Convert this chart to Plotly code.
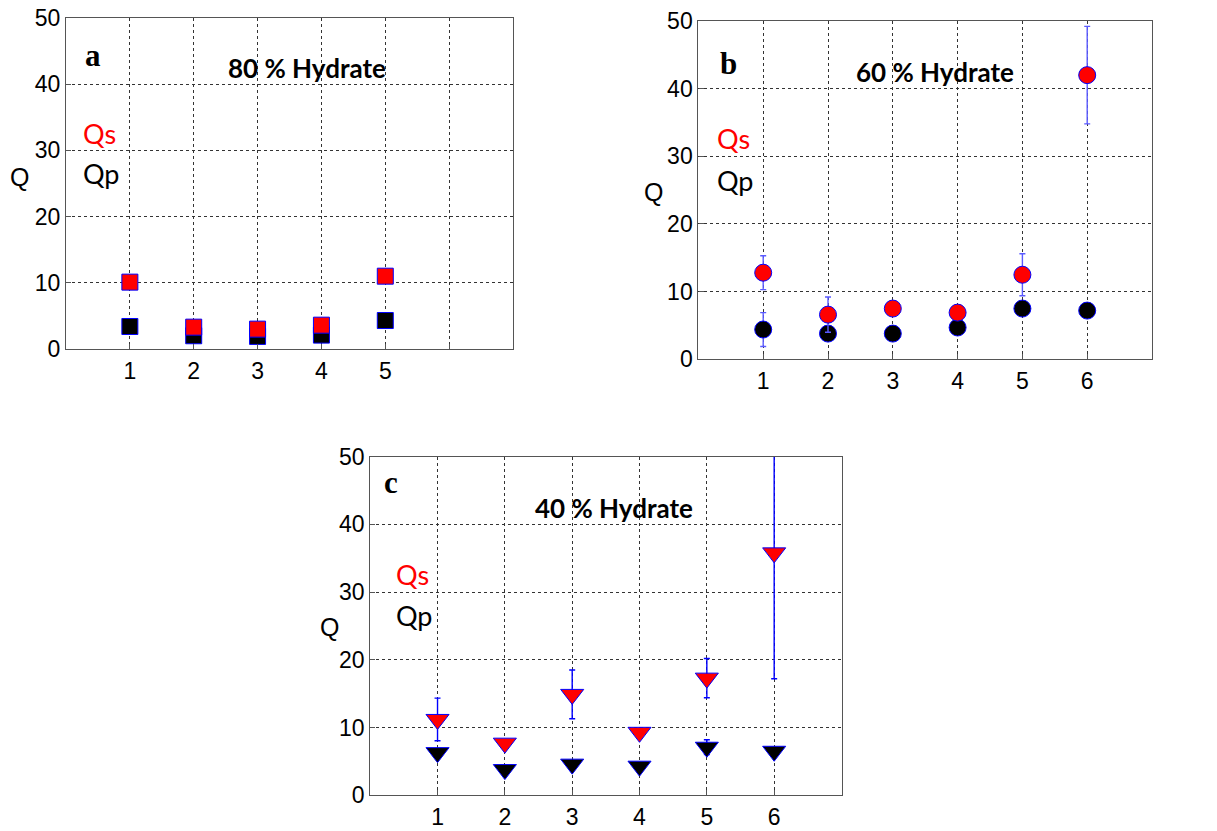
import plotly.graph_objects as go

# Panel a: 80 % hydrate (squares)
a_x = [1, 2, 3, 4, 5]
a_qs = [10.1, 3.3, 3.0, 3.6, 11.0]
a_qp = [3.4, 2.0, 1.9, 2.1, 4.3]

# Panel b: 60 % hydrate (circles, with error bars)
b_x = [1, 2, 3, 4, 5, 6]
b_qs = [12.8, 6.6, 7.5, 6.9, 12.5, 42.0]
b_qs_err = [2.5, 2.6, 0.0, 0.0, 3.1, 7.2]
b_qp = [4.4, 3.8, 3.8, 4.7, 7.5, 7.2]
b_qp_err = [2.5, 0.0, 0.0, 0.0, 0.0, 0.0]

# Panel c: 40 % hydrate (down triangles, with error bars)
c_x = [1, 2, 3, 4, 5, 6]
c_qs = [11.2, 7.7, 14.9, 9.3, 17.3, 35.8]
c_qs_err = [3.15, 0.0, 3.6, 0.0, 2.9, 18.6]
c_qp = [6.3, 3.8, 4.6, 4.3, 7.1, 6.5]
c_qp_err = [0.0, 0.0, 0.0, 0.0, 1.1, 0.0]

x_ticks = [1, 2, 3, 4, 5, 6]
y_ticks = [0, 10, 20, 30, 40, 50]

W, H = 1217, 831

panels = [
    dict(key="", x=a_x, qs=a_qs, qp=a_qp, qs_err=None, qp_err=None,
         symbol="square", size=16, letter="a", title="80 % Hydrate",
         xtext=["1", "2", "3", "4", "5", ""], err_color=None,
         px_x=(66, 513), px_y=(18, 349),
         letter_pos=(0.42, 44.4), title_pos=(3.77, 42.4),
         q_left=0.23, qlab_px=(19, 177)),
    dict(key="2", x=b_x, qs=b_qs, qp=b_qp, qs_err=b_qs_err, qp_err=b_qp_err,
         symbol="circle", size=17, letter="b", title="60 % Hydrate",
         xtext=["1", "2", "3", "4", "5", "6"], err_color="rgb(90,90,255)",
         px_x=(698.4, 1152), px_y=(21, 359.3),
         letter_pos=(0.46, 43.7), title_pos=(3.65, 42.5),
         q_left=0.256, qlab_px=(653, 192)),
    dict(key="3", x=c_x, qs=c_qs, qp=c_qp, qs_err=c_qs_err, qp_err=c_qp_err,
         symbol="triangle-down", size=20, letter="c", title="40 % Hydrate",
         xtext=["1", "2", "3", "4", "5", "6"], err_color="rgb(0,0,255)",
         px_x=(370.2, 841.5), px_y=(456.7, 795.3),
         letter_pos=(0.31, 46.2), title_pos=(3.62, 42.4),
         q_left=0.355, qlab_px=(329, 627)),
]

fig = go.Figure()
annotations = []

for p in panels:
    xa = "x" + p["key"]
    ya = "y" + p["key"]

    def err(values):
        if values is None:
            return None
        return dict(type="data", array=values, visible=True,
                    color=p["err_color"], thickness=1.4, width=3)

    fig.add_trace(go.Scatter(
        x=p["x"], y=p["qp"], mode="markers", xaxis=xa, yaxis=ya,
        marker=dict(symbol=p["symbol"], size=p["size"], color="black",
                    line=dict(color="blue", width=1)),
        error_y=err(p["qp_err"]), cliponaxis=True, showlegend=False))
    fig.add_trace(go.Scatter(
        x=p["x"], y=p["qs"], mode="markers", xaxis=xa, yaxis=ya,
        marker=dict(symbol=p["symbol"], size=p["size"], color="red",
                    line=dict(color="blue", width=1)),
        error_y=err(p["qs_err"]), cliponaxis=True, showlegend=False))

    axis_common = dict(showline=True, linecolor="#555555", linewidth=1.2,
                       mirror=True, showgrid=True, gridcolor="#333333",
                       griddash="dot", gridwidth=1, zeroline=False,
                       ticks="inside", ticklen=5, tickcolor="#555555",
                       automargin=False,
                       tickfont=dict(family="Liberation Sans", size=23, color="black"))
    dom_x = [p["px_x"][0] / W, p["px_x"][1] / W]
    dom_y = [1 - p["px_y"][1] / H, 1 - p["px_y"][0] / H]
    fig.update_layout(**{
        "xaxis" + p["key"]: dict(domain=dom_x, range=[0, 7], anchor=ya,
                                 tickvals=x_ticks, ticktext=p["xtext"],
                                 ticklabelstandoff=1, **axis_common),
        "yaxis" + p["key"]: dict(domain=dom_y, range=[0, 50], anchor=xa,
                                 tickvals=y_ticks, ticklabelstandoff=0,
                                 **axis_common),
    })

    annotations += [
        dict(x=p["letter_pos"][0], y=p["letter_pos"][1], xref=xa, yref=ya,
             text="<b>%s</b>" % p["letter"], showarrow=False,
             font=dict(family="Liberation Serif", size=31, color="black")),
        dict(x=p["title_pos"][0], y=p["title_pos"][1], xref=xa, yref=ya,
             text="<b>%s</b>" % p["title"], showarrow=False,
             font=dict(family="Lato", size=26, color="black")),
        dict(x=p["q_left"], y=32.6, xref=xa, yref=ya, xanchor="left",
             text="Qs", showarrow=False,
             font=dict(family="Lato", size=27, color="red")),
        dict(x=p["q_left"], y=26.5, xref=xa, yref=ya, xanchor="left",
             text="Qp", showarrow=False,
             font=dict(family="Lato", size=27, color="black")),
        dict(x=p["qlab_px"][0] / W, y=1 - p["qlab_px"][1] / H,
             xref="paper", yref="paper", xanchor="center", yanchor="middle",
             text="Q", showarrow=False,
             font=dict(family="Liberation Sans", size=25, color="black")),
    ]

fig.update_layout(width=W, height=H, margin=dict(l=0, r=0, t=0, b=0, pad=0),
                  paper_bgcolor="white", plot_bgcolor="white",
                  showlegend=False, annotations=annotations)

fig.write_html("out.html")
